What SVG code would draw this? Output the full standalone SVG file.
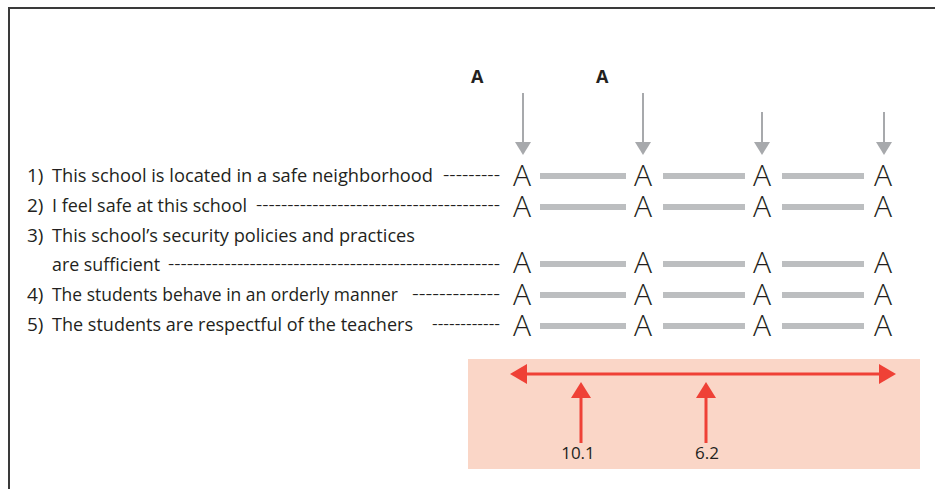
<svg xmlns="http://www.w3.org/2000/svg" width="935" height="489" viewBox="0 0 935 489">
<defs>
<style>
.lbl{font-family:"Open Sans","Noto Sans","Liberation Sans",sans-serif;font-size:19px;fill:#231f20}
.dash{font-family:"Open Sans","Noto Sans","Liberation Sans",sans-serif;font-size:14px;fill:#231f20}
.big{font-family:"Open Sans","Lato","Liberation Sans",sans-serif;font-weight:300;font-size:30px;fill:#231f20;text-anchor:middle}
.bar{stroke:#bcbec0;stroke-width:6}
.garrow{stroke:#a7a9ac;stroke-width:2;fill:none}
.ghead{fill:#a7a9ac}
.red{stroke:#ef4136;stroke-width:3;fill:none}
.redh{fill:#ef4136}
.num{font-family:"Open Sans","Noto Sans","Liberation Sans",sans-serif;font-size:17px;fill:#231f20}
.bold{font-family:"Open Sans","Liberation Sans",sans-serif;font-weight:700;font-size:18px;fill:#231f20}
</style>
</defs>
<rect width="935" height="489" fill="#ffffff"/>
<g id="frame">
<path d="M9 489 V8 H935" fill="none" stroke="#3a3a3a" stroke-width="2"/>
</g>
<g id="header">
<text class="bold" x="471" y="83">A</text>
<text class="bold" x="596" y="83">A</text>
</g>
<g id="connectors">
<line class="garrow" x1="523" y1="93" x2="523" y2="143"/>
<polygon class="ghead" points="515,142 531,142 523,155"/>
<line class="garrow" x1="643" y1="93" x2="643" y2="143"/>
<polygon class="ghead" points="635,142 651,142 643,155"/>
<line class="garrow" x1="762" y1="112" x2="762" y2="143"/>
<polygon class="ghead" points="754,142 770,142 762,155"/>
<line class="garrow" x1="884" y1="112" x2="884" y2="143"/>
<polygon class="ghead" points="876,142 892,142 884,155"/>
</g>
<g id="row1">
<text class="lbl" x="27" y="182">1)</text>
<text class="lbl" x="52" y="182" textLength="381" lengthAdjust="spacingAndGlyphs">This school is located in a safe neighborhood</text>
<text class="dash" x="443" y="180" textLength="57" lengthAdjust="spacingAndGlyphs">---------</text>
<text class="big" x="522" y="186">A</text><text class="big" x="643" y="186">A</text><text class="big" x="762" y="186">A</text><text class="big" x="883" y="186">A</text>
<line class="bar" x1="540" y1="176" x2="626" y2="176"/><line class="bar" x1="663" y1="176" x2="745" y2="176"/><line class="bar" x1="782" y1="176" x2="864" y2="176"/>
</g>
<g id="row2">
<text class="lbl" x="27" y="212">2)</text>
<text class="lbl" x="52" y="212" textLength="195" lengthAdjust="spacingAndGlyphs">I feel safe at this school</text>
<text class="dash" x="256" y="210" textLength="244" lengthAdjust="spacingAndGlyphs">---------------------------------------</text>
<text class="big" x="522" y="217">A</text><text class="big" x="643" y="217">A</text><text class="big" x="762" y="217">A</text><text class="big" x="883" y="217">A</text>
<line class="bar" x1="540" y1="207" x2="626" y2="207"/><line class="bar" x1="663" y1="207" x2="745" y2="207"/><line class="bar" x1="782" y1="207" x2="864" y2="207"/>
</g>
<g id="row3">
<text class="lbl" x="27" y="242">3)</text>
<text class="lbl" x="52" y="242" textLength="363" lengthAdjust="spacingAndGlyphs">This school’s security policies and practices</text>
<text class="lbl" x="52" y="271" textLength="108" lengthAdjust="spacingAndGlyphs">are sufficient</text>
<text class="dash" x="168" y="269" textLength="332" lengthAdjust="spacingAndGlyphs">-----------------------------------------------------</text>
<text class="big" x="522" y="273">A</text><text class="big" x="643" y="273">A</text><text class="big" x="762" y="273">A</text><text class="big" x="883" y="273">A</text>
<line class="bar" x1="540" y1="264" x2="626" y2="264"/><line class="bar" x1="663" y1="264" x2="745" y2="264"/><line class="bar" x1="782" y1="264" x2="864" y2="264"/>
</g>
<g id="row4">
<text class="lbl" x="27" y="301">4)</text>
<text class="lbl" x="52" y="301" textLength="346" lengthAdjust="spacingAndGlyphs">The students behave in an orderly manner</text>
<text class="dash" x="412" y="299" textLength="88" lengthAdjust="spacingAndGlyphs">-------------</text>
<text class="big" x="522" y="305">A</text><text class="big" x="643" y="305">A</text><text class="big" x="762" y="305">A</text><text class="big" x="883" y="305">A</text>
<line class="bar" x1="540" y1="295" x2="626" y2="295"/><line class="bar" x1="663" y1="295" x2="745" y2="295"/><line class="bar" x1="782" y1="295" x2="864" y2="295"/>
</g>
<g id="row5">
<text class="lbl" x="27" y="331">5)</text>
<text class="lbl" x="52" y="331" textLength="361" lengthAdjust="spacingAndGlyphs">The students are respectful of the teachers</text>
<text class="dash" x="432" y="329" textLength="68" lengthAdjust="spacingAndGlyphs">------------</text>
<text class="big" x="522" y="336">A</text><text class="big" x="643" y="336">A</text><text class="big" x="762" y="336">A</text><text class="big" x="883" y="336">A</text>
<line class="bar" x1="540" y1="326" x2="626" y2="326"/><line class="bar" x1="663" y1="326" x2="745" y2="326"/><line class="bar" x1="782" y1="326" x2="864" y2="326"/>
</g>
<g id="scale">
<rect x="468" y="359" width="452" height="110" fill="#fad6c7"/>
<line class="red" x1="524" y1="374" x2="882" y2="374"/>
<polygon class="redh" points="510,374 527,364 527,384"/>
<polygon class="redh" points="896,374 879,364 879,384"/>
<line class="red" x1="581" y1="396" x2="581" y2="443"/>
<polygon class="redh" points="581,382 571,398 591,398"/>
<line class="red" x1="706" y1="396" x2="706" y2="443"/>
<polygon class="redh" points="706,382 696,398 716,398"/>
<text class="num" x="578" y="459" text-anchor="middle">10.1</text>
<text class="num" x="707" y="459" text-anchor="middle">6.2</text>
</g>
</svg>
